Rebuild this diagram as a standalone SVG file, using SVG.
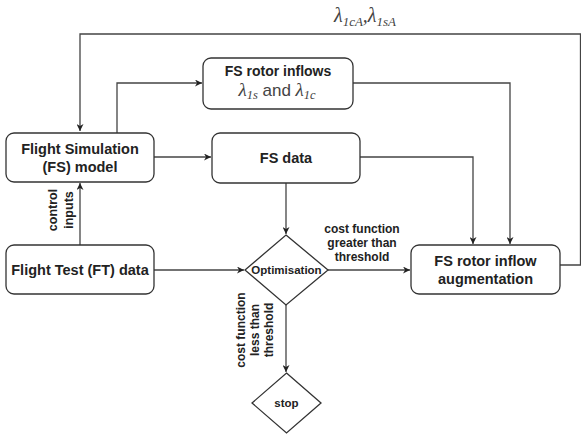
<svg xmlns="http://www.w3.org/2000/svg" width="581" height="434" viewBox="0 0 581 434">
<defs>
<marker id="ah" viewBox="0 0 10 10" refX="10" refY="5" markerWidth="7" markerHeight="7" orient="auto" markerUnits="userSpaceOnUse">
<path d="M0,0 L10,5 L0,10 L3,5 Z" fill="#222"/>
</marker>
<style>
.box{fill:#fff;stroke:#333;stroke-width:1.3}
.t{font-family:"Liberation Sans",Arial,sans-serif;font-weight:bold;fill:#222;text-anchor:middle}
.b{font-size:14.5px}
.s{font-size:12px}
.m{font-family:"Liberation Serif","DejaVu Serif",serif;font-style:italic;fill:#444}
.c{fill:none;stroke:#444;stroke-width:1.3}
</style>
</defs>
<rect width="581" height="434" fill="#fff"/>
<g id="connectors">
<polyline class="c" points="560,265 580.5,265 580.5,34 80,34 80,131" marker-end="url(#ah)"/>
<polyline class="c" points="117,133 117,83 202,83" marker-end="url(#ah)"/>
<polyline class="c" points="353,83 510,83 510,244" marker-end="url(#ah)"/>
<polyline class="c" points="154,157 211,157" marker-end="url(#ah)"/>
<polyline class="c" points="360,157 473,157 473,244" marker-end="url(#ah)"/>
<polyline class="c" points="286,183 286,234" marker-end="url(#ah)"/>
<polyline class="c" points="80,245 80,183" marker-end="url(#ah)"/>
<polyline class="c" points="154,270 244,270" marker-end="url(#ah)"/>
<polyline class="c" points="328,270 410,270" marker-end="url(#ah)"/>
<polyline class="c" points="286,305 286,372" marker-end="url(#ah)"/>
<text class="m" x="365" y="22" text-anchor="middle" font-size="20">λ<tspan font-size="13" dy="4">1cA</tspan><tspan dy="-4">,</tspan>λ<tspan font-size="13" dy="4">1sA</tspan></text>
<text class="t" font-size="12.5px" transform="translate(57,210) rotate(-90)">control</text>
<text class="t" font-size="12.5px" transform="translate(73,210) rotate(-90)">inputs</text>
<text class="t s" x="362" y="233">cost function</text>
<text class="t s" x="362" y="247">greater than</text>
<text class="t s" x="362" y="261">threshold</text>
<text class="t s" transform="translate(245,330) rotate(-90)">cost function</text>
<text class="t s" transform="translate(259,330) rotate(-90)">less than</text>
<text class="t s" transform="translate(273,330) rotate(-90)">threshold</text>
</g>
<g id="fs-model">
<rect class="box" x="6" y="133" width="148" height="49" rx="8"/>
<text class="t b" x="80" y="154">Flight Simulation</text>
<text class="t b" x="80" y="172">(FS) model</text>
</g>
<g id="fs-rotor-inflows">
<rect class="box" x="203" y="58" width="150" height="51" rx="8"/>
<text class="t" font-size="14px" x="278" y="76">FS rotor inflows</text>
<text x="277" y="96" text-anchor="middle" font-family="Liberation Sans,Arial,sans-serif" font-size="17" fill="#444"><tspan class="m" font-size="19">λ</tspan><tspan class="m" font-size="12.5" dy="3">1s</tspan><tspan dy="-3"> and </tspan><tspan class="m" font-size="19">λ</tspan><tspan class="m" font-size="12.5" dy="3">1c</tspan></text>
</g>
<g id="fs-data">
<rect class="box" x="212" y="133" width="148" height="50" rx="8"/>
<text class="t b" x="286" y="163">FS data</text>
</g>
<g id="ft-data">
<rect class="box" x="6" y="245" width="148" height="49" rx="8"/>
<text class="t b" x="80" y="275">Flight Test (FT) data</text>
</g>
<g id="optimisation">
<polygon class="box" points="286,235 328,270 286,305 245,270"/>
<text class="t" font-size="11.5px" x="286.5" y="274">Optimisation</text>
</g>
<g id="augmentation">
<rect class="box" x="411" y="245" width="149" height="49" rx="8"/>
<text class="t b" x="485.5" y="266">FS rotor inflow</text>
<text class="t b" x="485.5" y="284">augmentation</text>
</g>
<g id="stop">
<polygon class="box" points="286.5,373 321,403 286.5,433 252,403"/>
<text class="t" font-size="11.5px" x="286.5" y="407">stop</text>
</g>
</svg>
